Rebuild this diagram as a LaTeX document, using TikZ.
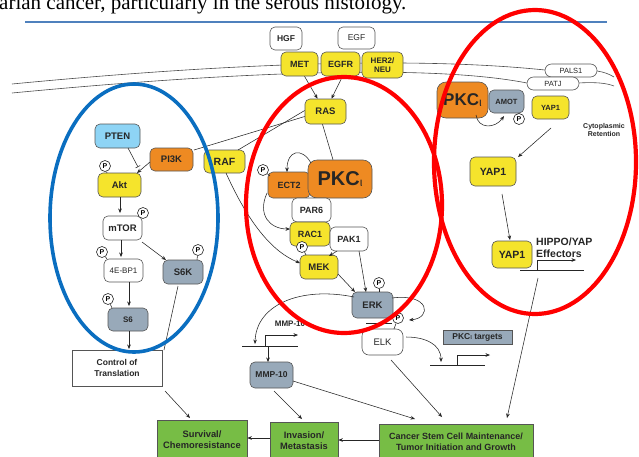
\documentclass[tikz,border=0pt]{standalone}
\usepackage{fontspec}
\setmainfont{Liberation Serif}
\setsansfont{Liberation Sans}
\usetikzlibrary{arrows.meta}
\definecolor{yel}{HTML}{F5E42C}
\definecolor{org}{HTML}{EE8A22}
\definecolor{gry}{HTML}{98A9B9}
\definecolor{lbl}{HTML}{8ED4F5}
\definecolor{grn}{HTML}{77BD45}
\definecolor{redc}{HTML}{FF0000}
\definecolor{bluc}{HTML}{0A6EC0}
\definecolor{linec}{HTML}{4F81BD}
\definecolor{edgec}{HTML}{555555}
\definecolor{txtc}{HTML}{262626}
\newcommand{\iotaS}{\raisebox{-1pt}{\fontsize{12}{12}\selectfont\mdseries ι}}
\newcommand{\iotaT}{{\fontsize{7.5}{8}\selectfont\mdseries ι}}
\newcommand{\fs}[1]{\fontsize{#1}{#1}\selectfont}
\begin{document}
\begin{tikzpicture}[x=1pt,y=-1pt,
  bx/.style={draw=edgec, line width=0.6pt, rounded corners=5pt, inner sep=0pt, align=center,
     font=\sffamily\bfseries\fs{9.5}, text=txtc},
  big/.style={bx, rounded corners=9pt, font=\sffamily\bfseries\fs{20}},
  pill/.style={bx, rounded corners=6.5pt, font=\sffamily\fs{7.5}},
  gbox/.style={draw=edgec, line width=0.7pt, fill=grn, inner sep=0pt, align=center,
     font=\sffamily\bfseries\fontsize{9.3}{11}\selectfont, text=txtc},
  pc/.style={circle, draw=txtc, line width=0.6pt, fill=white, inner sep=0pt, minimum size=11pt,
     font=\sffamily\bfseries\fs{7}},
  ln/.style={draw=txtc, line width=0.55pt},
  arr/.style={ln, -{Stealth[length=4.5pt,width=3.6pt]}},
  mem/.style={draw=black!70, line width=0.6pt},
  lab/.style={inner sep=0pt, align=left, font=\sffamily\bfseries\fs{8}, text=txtc}
]
\useasboundingbox (0,0) rectangle (639,456);
\clip (0,0) rectangle (639,456);
\fill[white] (0,0) rectangle (639,456);

% title and rule
\node[anchor=base west, inner sep=0pt, font=\fs{21}] (title) at (-1,9) {arian cancer, particularly in the serous histology.};
\draw[draw=linec, line width=1.8pt] (25,22) -- (607,22);

% membrane
\draw[mem] (12,84) .. controls (200,66) and (400,55) .. (545,70);
\draw[mem] (12,93) .. controls (200,75) and (420,62) .. (527,83);
\draw[mem] (597,71) .. controls (604,72) and (609,74) .. (614,77);
\draw[mem] (578,83) .. controls (596,82) and (606,83) .. (614,86);

% receptors
\node[bx, fill=white, minimum width=32, minimum height=23, font=\sffamily\bfseries\fs{8.5}] (hgf) at (286,38.5) {HGF};
\node[bx, fill=white, minimum width=37, minimum height=22, font=\sffamily\fs{8.5}] (egf) at (356.5,38) {EGF};
\node[bx, fill=yel, minimum width=37, minimum height=24, font=\sffamily\bfseries\fs{9}] (met) at (299.5,64) {MET};
\node[bx, fill=yel, minimum width=39, minimum height=24, font=\sffamily\bfseries\fs{9}] (egfr) at (340.5,64) {EGFR};
\node[bx, fill=yel, minimum width=41, minimum height=26, font=\sffamily\bfseries\fontsize{8}{9}\selectfont] (her) at (382.5,65) {HER2/\\NEU};

% right module
\node[pill, fill=white, minimum width=52, minimum height=13] (pals) at (571,70.5) {PALS1};
\node[pill, fill=white, minimum width=52, minimum height=13] (patj) at (553,83.5) {PATJ};
\node[big, fill=org, minimum width=51, minimum height=36, font=\sffamily\bfseries\fs{17}] (pkcr) at (462.5,100) {PKC\iotaS};
\node[bx, fill=gry, minimum width=35, minimum height=23, font=\sffamily\bfseries\fs{7.5}] (amot) at (506.5,101.5) {AMOT};
\node[bx, fill=yel, minimum width=37, minimum height=23, font=\sffamily\bfseries\fs{7.5}] (yaps) at (550.5,107.5) {YAP1};
\node[pc] (pam) at (519,119) {P};
\draw[ln] (pam) -- (518,113);
\node[lab, align=center, font=\sffamily\bfseries\fontsize{7}{8}\selectfont] (cyto) at (604,130) {Cytoplasmic\\Retention};
\node[bx, fill=yel, minimum width=46, minimum height=29, font=\sffamily\bfseries\fs{10.5}] (yapm) at (493,171.5) {YAP1};
\node[bx, fill=yel, minimum width=40, minimum height=27, font=\sffamily\bfseries\fs{10.5}] (yapl) at (512,254.5) {YAP1};
\node[lab, anchor=north west, font=\sffamily\bfseries\fontsize{10.5}{12}\selectfont] (hippo) at (536,238) {HIPPO/YAP\\Effectors};
\coordinate (yp1) at (520,270);
\coordinate (yp2) at (584,270);
\draw[ln] (yp1) -- (yp2);
\coordinate (yb) at (537,270);
\draw[arr] (yb) -- (537,260) -- (576,260);

% left module
\node[bx, fill=lbl, minimum width=45, minimum height=24] (pten) at (117.5,136) {PTEN};
\node[bx, fill=org, minimum width=43, minimum height=23] (pi3k) at (171.5,159.5) {PI3K};
\node[bx, fill=yel, minimum width=41, minimum height=23, font=\sffamily\bfseries\fs{10.5}] (raf) at (224.5,161.5) {RAF};
\node[bx, fill=yel, minimum width=43, minimum height=24] (akt) at (119.5,185) {Akt};
\node[bx, fill=white, minimum width=39, minimum height=24] (mtor) at (122.5,228) {mTOR};
\node[bx, fill=white, minimum width=39, minimum height=23, font=\sffamily\fs{8}] (ebp) at (123.5,270.5) {4E-BP1};
\node[bx, fill=gry, minimum width=40, minimum height=24] (s6k) at (183,272) {S6K};
\node[bx, fill=gry, minimum width=40, minimum height=23, font=\sffamily\bfseries\fs{8}] (s6) at (128,319.5) {S6};
\node[draw=edgec, line width=0.6pt, fill=white, inner sep=0pt, align=center, minimum width=90, minimum height=36,
      font=\sffamily\bfseries\fontsize{8.5}{11}\selectfont, text=txtc] (ctrl) at (117,368) {Control of\\Translation};
\node[pc] (pakt) at (105,166) {P};
\draw[ln] (pakt) -- (107,173);
\node[pc] (pmtor) at (143,213) {P};
\draw[ln] (pmtor) -- (139,217);
\node[pc] (pebp) at (102,252) {P};
\draw[ln] (pebp) -- (107,259);
\node[pc] (ps6k) at (198,250) {P};
\draw[ln] (ps6k) -- (197,260);
\node[pc] (ps6) at (108,299) {P};
\draw[ln] (ps6) -- (112,308);

% middle module
\node[bx, fill=yel, minimum width=41, minimum height=25] (ras) at (325.5,111.5) {RAS};
\node[bx, fill=org, minimum width=42, minimum height=26, font=\sffamily\bfseries\fs{9}] (ect) at (289,185) {ECT2};
\node[big, fill=org, minimum width=64, minimum height=38] (pkcm) at (340,179) {PKC\iotaS};
\node[bx, fill=white, minimum width=39, minimum height=24, font=\sffamily\bfseries\fs{9}] (par) at (311.5,210) {PAR6};
\node[bx, fill=yel, minimum width=40, minimum height=24, font=\sffamily\bfseries\fs{9}] (rac) at (310,234) {RAC1};
\node[bx, fill=white, minimum width=38, minimum height=24, font=\sffamily\bfseries\fs{9}] (pak) at (349,239) {PAK1};
\node[bx, fill=yel, minimum width=38, minimum height=24] (mek) at (319,267) {MEK};
\node[bx, fill=gry, minimum width=41, minimum height=26] (erk) at (372.5,305) {ERK};
\node[bx, fill=white, minimum width=41, minimum height=26, rounded corners=7pt, font=\sffamily\fs{9.5}] (elk) at (382.5,342) {ELK};
\node[draw=edgec, line width=0.6pt, fill=gry, inner sep=0pt, minimum width=69, minimum height=14,
      font=\sffamily\bfseries\fs{8.5}, text=txtc] (tgt) at (477.5,337) {PKC\iotaT\ targets};
\node[bx, fill=gry, minimum width=43, minimum height=26, font=\sffamily\bfseries\fs{8.5}] (mmp) at (271.5,375) {MMP-10};
\node[pc] (pect) at (263,170) {P};
\draw[ln] (pect) -- (270,176);
\node[pc] (pmek) at (302,247) {P};
\draw[ln] (pmek) -- (306,255);
\node[pc] (perk) at (379,283) {P};
\draw[ln] (perk) -- (379,292);
\node[pc] (pelk) at (398,318) {P};
\draw[ln] (pelk) -- (394,329);
\draw[ln] (366,323) -- (392,323);

% MMP-10 promoter
\node[lab, font=\sffamily\bfseries\fs{8}] (mmplab) at (290,324) {MMP-10};
\draw[ln] (242,346) -- (298,346);
\draw[arr] (265,346) -- (265,335) -- (298,335);
% targets promoter
\draw[ln] (430,365) -- (485,365);
\draw[arr] (457,365) -- (457,355) -- (490,355);

% bottom outcomes
\node[gbox, minimum width=90, minimum height=40] (surv) at (202,440) {Survival/\\Chemoresistance};
\node[gbox, minimum width=68, minimum height=38] (inv) at (304,441) {Invasion/\\Metastasis};
\node[gbox, minimum width=154, minimum height=36, font=\sffamily\bfseries\fontsize{9}{11}\selectfont] (csc) at (456,442) {Cancer Stem Cell Maintenance/\\Tumor Initiation and Growth};

% ---------- connectors
\draw[arr] ([xshift=5]met.south) -- ([xshift=-8]ras.north);
\draw[arr] ([xshift=2]egfr.south) -- ([xshift=6]ras.north);
\draw[ln] ([yshift=-5]ras.west) -- (194,150);
\draw[ln] ([yshift=1]ras.west) -- (238,150);
\draw[ln] ([xshift=-3]ras.south) -- ([xshift=-7]pkcm.north);
\draw[arr] (311,163) .. controls (302,147) and (287,150) .. (287,172);
\draw[arr] (267,193) .. controls (257,215) and (270,229) .. (290,229);
\draw[arr] (226,173) .. controls (245,215) and (268,250) .. (300,263);
\draw[arr] (337,251) -- (329,256);
\draw[arr] (359,251) -- (366,292);
\draw[arr] (338,274) -- (355,292);
\draw[arr] (354,297) .. controls (300,286) and (256,305) .. (255,344);
\draw[arr] (392,298) .. controls (430,293) and (432,318) .. (409,320);
\draw[arr] (268,346) -- (268,362);
\draw[arr] (406,337) .. controls (425,337) and (441,344) .. (441,362);

\draw[ln, -|] (128,148) -- (138,167);
\draw[arr] (150,162) -- (137,173);
\draw[arr] (120,197) -- (120,213);
\draw[arr] (121,240) -- (121,257);
\draw[arr] (142,242) -- (166,260);
\draw[arr] (129,282) -- (129,306);
\draw[arr] (129,331) -- (129,349);
\draw[ln] (178,286) -- (164,350);

\draw[arr] (476,115) .. controls (478,129) and (495,129) .. (504,116);
\draw[arr] (551,128) -- (518,157);
\draw[arr] (502,194) -- (510,240);

\draw[arr] (165,391) -- (190,418);
\draw[arr] (274,391) -- (302,419);
\draw[arr] (293,381) -- (415,419);
\draw[arr] (391,360) -- (442,417);
\draw[arr] (538,278) -- (507,418);
\draw[arr] (csc.west |- 0,440) -- (inv.east |- 0,440);
\draw[arr] (inv.west |- 0,438) -- (surv.east |- 0,438);

% ellipses
\draw[draw=bluc, line width=3.6pt] (134,218) ellipse [x radius=84, y radius=134];
\draw[draw=redc, line width=4.2pt] (344,205) ellipse [x radius=98, y radius=128];
\draw[draw=redc, line width=4.2pt] (535,162) ellipse [x radius=101, y radius=152];
\end{tikzpicture}
\end{document}
